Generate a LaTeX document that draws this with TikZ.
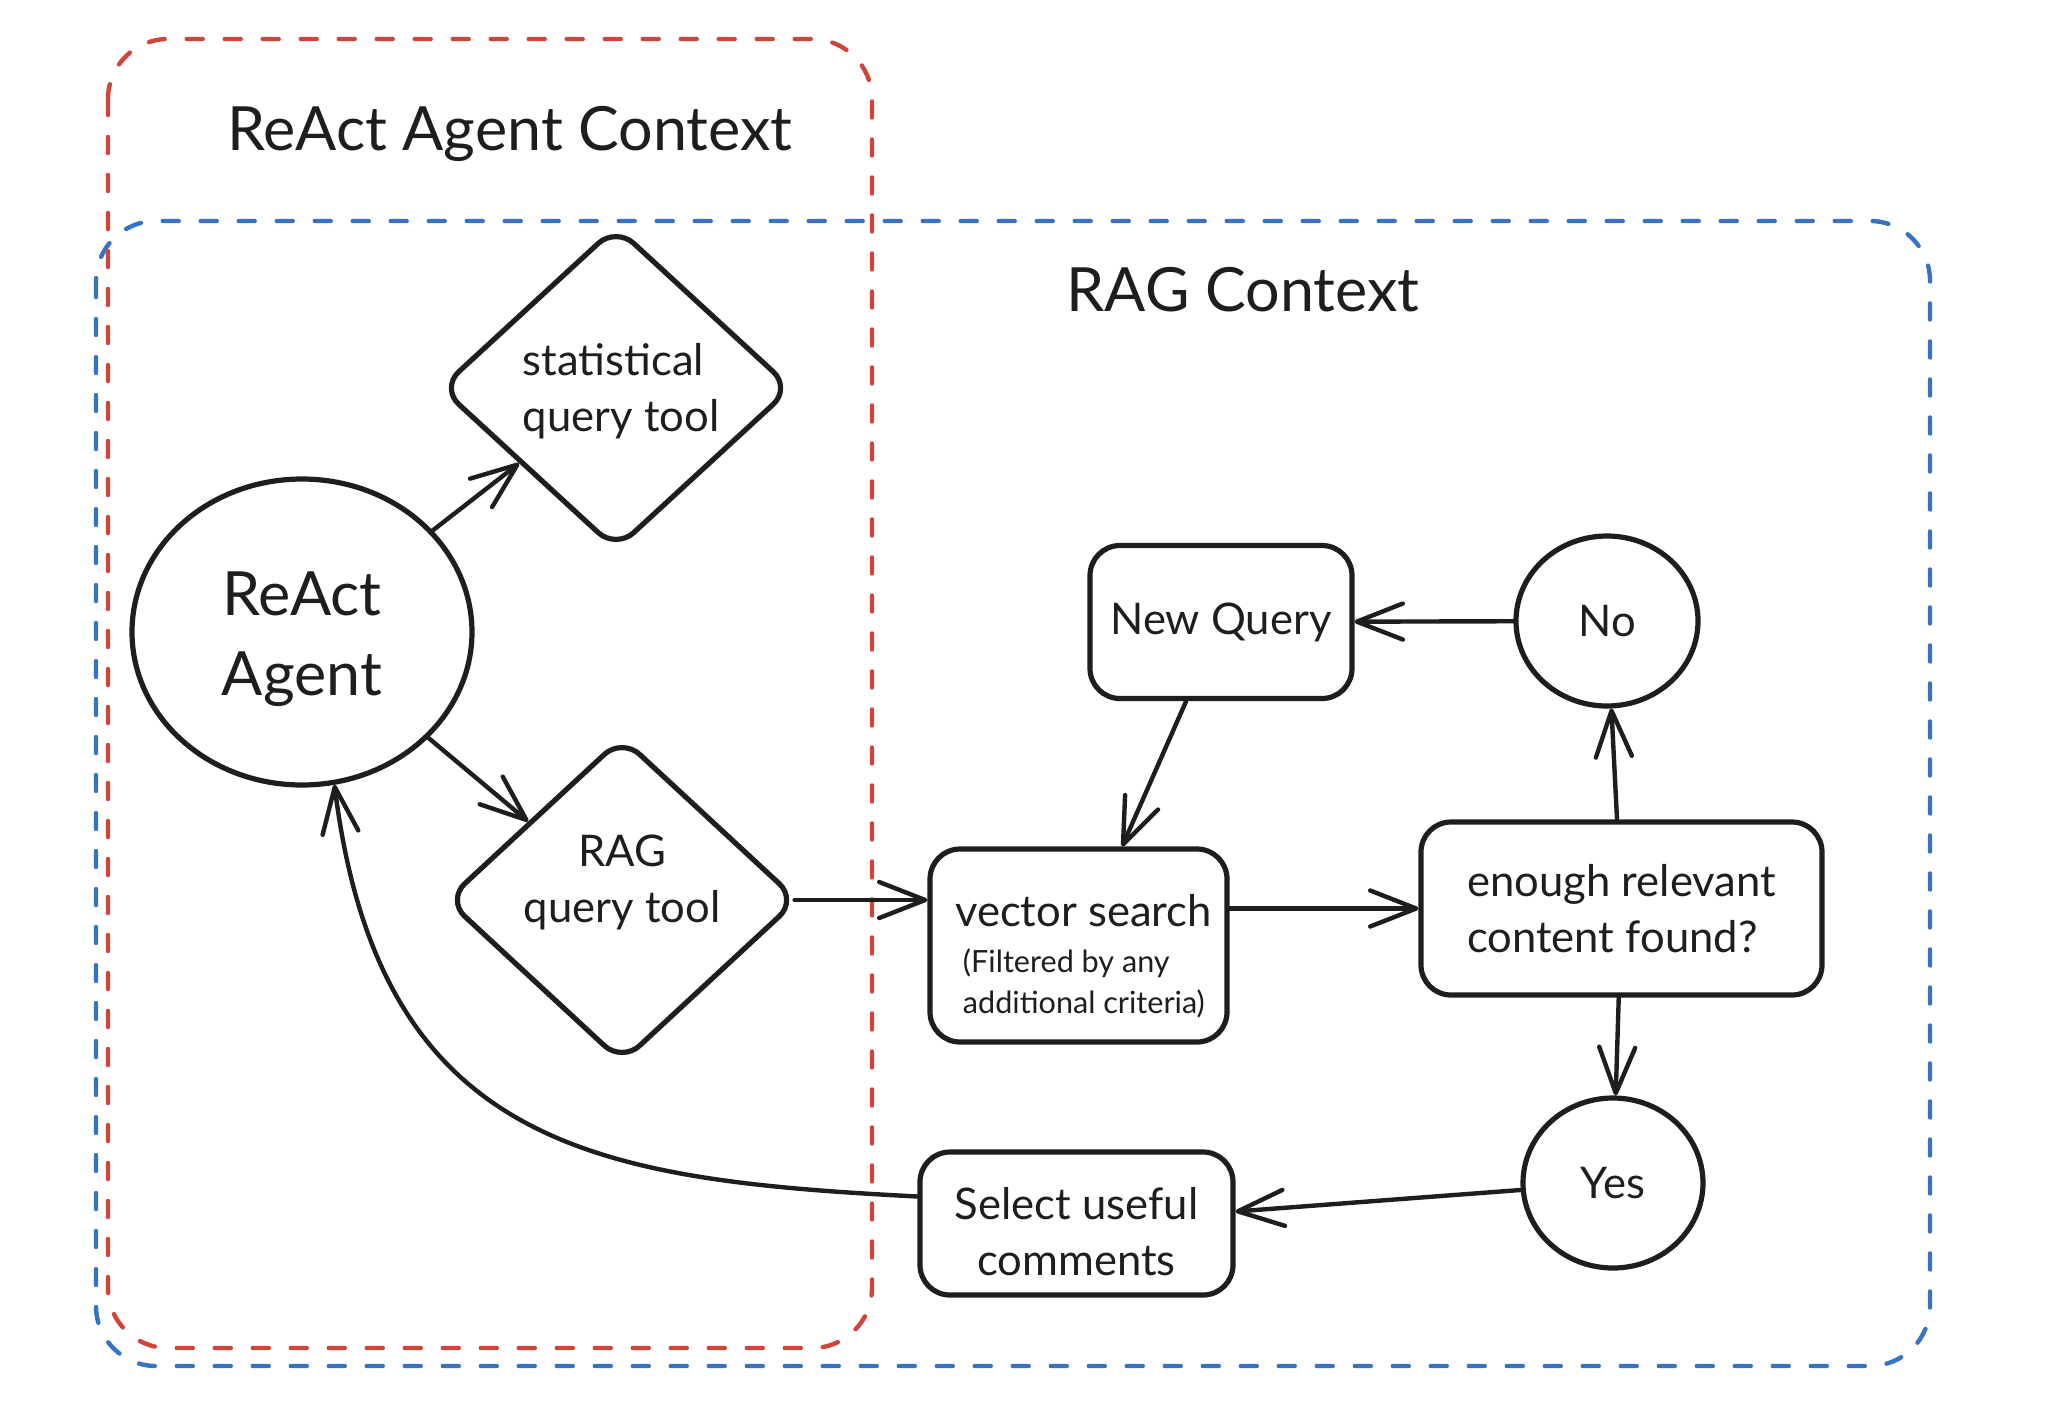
\documentclass[tikz,border=0pt]{standalone}
\usepackage{fontspec}
\setmainfont{Lato}
\usetikzlibrary{shapes.geometric,arrows.meta,calc}
\definecolor{ink}{HTML}{1E1E1E}
\definecolor{redc}{RGB}{210,68,58}
\definecolor{bluec}{RGB}{55,115,195}
\newcommand{\bigfont}{\fontsize{30.5}{40}\selectfont}
\newcommand{\midfont}{\fontsize{21.8}{28}\selectfont}
\newcommand{\smallfont}{\fontsize{15.3}{19}\selectfont}
\begin{document}
\begin{tikzpicture}[x=0.5pt,y=-0.5pt,
  every node/.style={text=ink},
  ctxbox/.style={line width=2.2pt, dash pattern=on 8pt off 11pt, line cap=round, rounded corners=30pt},
  titletext/.style={font=\bigfont, anchor=base, inner sep=0pt},
  shapeline/.style={draw=ink, line width=2.6pt, font=\midfont, inner sep=0pt},
  roundbox/.style={shapeline, rectangle, rounded corners=15pt},
  diam/.style={shapeline, diamond, rounded corners=12pt, minimum width=176pt, minimum height=162pt},
  oval/.style={shapeline, ellipse},
  conn/.style={draw=ink, line width=2.2pt, line cap=round, -{Straight Barb[length=23pt,width=18pt,round]}}
]
\useasboundingbox (0,0) rectangle (2062,1404);
\fill[white] (0,0) rectangle (2062,1404);

% context boxes
\draw[ctxbox, draw=bluec] (96,221) rectangle (1930,1366);
\draw[ctxbox, draw=redc] (108,39) rectangle (872,1348);

\node[titletext] (t1) at (510,150) {ReAct Agent Context};
\node[titletext] (t2) at (1243,311) {RAG Context};

% nodes
\node[oval, font=\bigfont, align=center, minimum width=170pt, minimum height=153pt] (react) at (302,632) {\mbox{}\\[-11pt]ReAct\\Agent};
\node[diam, align=left] (stat) at (616,388) {\mbox{}\\[-8.3pt]\hspace*{5pt}statistical\\\hspace*{5pt}query tool};
\node[diam, align=center] (rag) at (622,900) {RAG\\query tool\\[-7pt]\mbox{}};
\node[roundbox, minimum width=131pt, minimum height=76.5pt] (nq) at (1221,622) {New Query};
\node[oval, minimum width=91pt, minimum height=85pt] (no) at (1607,621) {No};
\node[roundbox, align=left, minimum width=148.5pt, minimum height=96.5pt] (vec) at (1078.5,945.5)
  {\mbox{}\\[-1.5pt]\hspace*{5pt}vector search\\[-5pt] \smallfont\hspace*{5pt}\ (Filtered by any\\[-7.5pt] \smallfont\hspace*{5pt}\ additional criteria)};
\node[roundbox, align=left, minimum width=200.5pt, minimum height=86.5pt] (enough) at (1621.5,908.5) {enough relevant\\content found?};
\node[oval, minimum width=90pt, minimum height=85pt] (yes) at (1613,1183) {Yes};
\node[roundbox, align=center, minimum width=156.5pt, minimum height=71.5pt] (sel) at (1076.5,1223.5) {\mbox{}\\[-4pt]Select useful\\comments};

% connectors
\draw[conn] (react) -- (stat);
\draw[conn] (react) -- (rag);
\draw[conn] ([xshift=-3pt]rag.east) -- (rag.east -| vec.west);
\draw[conn] (vec.east |- enough.west) -- (enough.west);
\draw[conn] (enough) -- (no);
\draw[conn] (no) -- (nq);
\draw[conn] (nq) -- (vec);
\draw[conn] (enough) -- (yes);
\draw[conn] (yes) -- (sel);
\draw[conn] ([yshift=13.5pt]sel.west) .. controls (600,1180) and (380,1150) .. (react.-78);
\end{tikzpicture}
\end{document}
